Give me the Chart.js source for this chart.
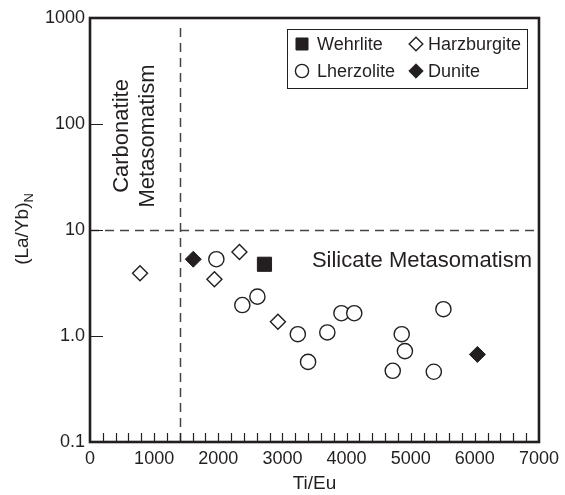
<!DOCTYPE html>
<html>
<head>
<meta charset="utf-8">
<script src="https://cdn.jsdelivr.net/npm/chart.js@4/dist/chart.umd.min.js"></script>
<style>
  html, body { margin: 0; padding: 0; background: #fff; }
  #wrap { width: 565px; height: 495px; }
</style>
</head>
<body>
<div id="wrap"><canvas id="c" width="565" height="495"></canvas></div>
<script>
// Ti/Eu versus chondrite-normalised (La/Yb) for peridotite xenoliths
const wehrliteX = [2720];
const wehrliteY = [4.75];
const harzburgiteX = [780, 1940, 2330, 2930];
const harzburgiteY = [3.9, 3.43, 6.2, 1.36];
const lherzoliteX = [1970, 2375, 2610, 3240, 3400, 3700, 3920, 4120, 4720, 4860, 4910, 5360, 5510];
const lherzoliteY = [5.3, 1.96, 2.35, 1.04, 0.57, 1.08, 1.64, 1.64, 0.47, 1.04, 0.72, 0.46, 1.79];
const duniteX = [1610, 6040];
const duniteY = [5.3, 0.67];

const xTickValues = [0, 1000, 2000, 3000, 4000, 5000, 6000, 7000];
const xTickLabels = ['0', '1000', '2000', '3000', '4000', '5000', '6000', '7000'];
const xMinorStep = 200;
const yTickValues = [0.1, 1, 10, 100, 1000];
const yTickLabels = ['0.1', '1.0', '10', '100', '1000'];

// field boundaries
const carbonatiteTiEu = 1400;
const silicateLaYb = 10;

const INK = '#231f20';
const FONT = '"Liberation Sans", Arial, Helvetica, sans-serif';

function pts(xs, ys) { return xs.map((x, i) => ({ x: x, y: ys[i] })); }

const datasets = [
  { label: 'Wehrlite', data: pts(wehrliteX, wehrliteY), pointStyle: 'rect', pointRadius: 10,
    backgroundColor: INK, borderColor: INK, borderWidth: 1 },
  { label: 'Harzburgite', data: pts(harzburgiteX, harzburgiteY), pointStyle: 'rectRot', pointRadius: 7.5,
    backgroundColor: '#fff', borderColor: INK, borderWidth: 1.4 },
  { label: 'Lherzolite', data: pts(lherzoliteX, lherzoliteY), pointStyle: 'circle', pointRadius: 7.6,
    backgroundColor: '#fff', borderColor: INK, borderWidth: 1.4 },
  { label: 'Dunite', data: pts(duniteX, duniteY), pointStyle: 'rectRot', pointRadius: 8,
    backgroundColor: INK, borderColor: INK, borderWidth: 1 }
];

const decorations = {
  id: 'decorations',
  beforeDatasetsDraw(chart) {
    const { ctx, chartArea: a, scales: { x, y } } = chart;
    ctx.save();
    ctx.strokeStyle = '#444';
    ctx.lineWidth = 1.5;
    ctx.setLineDash([9, 6]);
    const vx = Math.round(x.getPixelForValue(carbonatiteTiEu)) + 0.5;
    ctx.beginPath(); ctx.moveTo(vx, a.top + 10); ctx.lineTo(vx, a.bottom); ctx.stroke();
    const hy = Math.round(y.getPixelForValue(silicateLaYb)) + 0.5;
    ctx.beginPath(); ctx.moveTo(a.left, hy); ctx.lineTo(a.right, hy); ctx.stroke();
    ctx.setLineDash([]);

    // field labels
    ctx.fillStyle = INK;
    ctx.font = '22px ' + FONT;
    ctx.textAlign = 'right';
    ctx.textBaseline = 'alphabetic';
    ctx.fillText('Silicate Metasomatism', a.right - 7, hy + 36);

    ctx.save();
    ctx.translate(0, 136);
    ctx.rotate(-Math.PI / 2);
    ctx.textAlign = 'center';
    ctx.textBaseline = 'middle';
    ctx.fillText('Carbonatite', 0, 122);
    ctx.fillText('Metasomatism', 0, 148);
    ctx.restore();
    ctx.restore();
  },
  afterDraw(chart) {
    const { ctx, chartArea: a, scales: { x, y } } = chart;
    ctx.save();
    ctx.strokeStyle = INK;

    // inward ticks
    ctx.lineWidth = 1.2;
    ctx.beginPath();
    for (let v = xMinorStep; v < 7000; v += xMinorStep) {
      const px = Math.round(x.getPixelForValue(v)) + 0.5;
      ctx.moveTo(px, a.bottom); ctx.lineTo(px, a.bottom - 9);
    }
    yTickValues.slice(1, -1).forEach(v => {
      const py = Math.round(y.getPixelForValue(v)) + 0.5;
      ctx.moveTo(a.left, py); ctx.lineTo(a.left + 13, py);
    });
    ctx.stroke();

    // frame
    ctx.lineWidth = 2.6;
    ctx.strokeRect(a.left, a.top, a.right - a.left, a.bottom - a.top);

    // axis titles
    ctx.fillStyle = INK;
    ctx.font = '19px ' + FONT;
    ctx.textAlign = 'center';
    ctx.textBaseline = 'middle';
    ctx.fillText('Ti/Eu', (a.left + a.right) / 2, 484);

    ctx.save();
    ctx.translate(23, 229);
    ctx.rotate(-Math.PI / 2);
    ctx.font = '19px ' + FONT;
    const main = '(La/Yb)';
    const w1 = ctx.measureText(main).width;
    ctx.font = '13px ' + FONT;
    const w2 = ctx.measureText('N').width;
    const start = -(w1 + w2) / 2;
    ctx.textAlign = 'left';
    ctx.font = '19px ' + FONT;
    ctx.fillText(main, start, 0);
    ctx.font = '13px ' + FONT;
    ctx.fillText('N', start + w1, 6);
    ctx.restore();

    // legend
    const lx = 287.5, ly = 29.5, lw = 240, lh = 59;
    ctx.lineWidth = 1;
    ctx.fillStyle = '#fff';
    ctx.fillRect(lx, ly, lw, lh);
    ctx.strokeRect(lx, ly, lw, lh);
    const entries = [
      { ds: datasets[0], r: 8.5, mx: 302, tx: 317, y: 44 },
      { ds: datasets[1], r: 6.8, mx: 416, tx: 428, y: 44 },
      { ds: datasets[2], r: 6.6, mx: 302, tx: 317, y: 71 },
      { ds: datasets[3], r: 7.2, mx: 416, tx: 428, y: 71 }
    ];
    entries.forEach(e => {
      ctx.fillStyle = e.ds.backgroundColor;
      ctx.strokeStyle = e.ds.borderColor;
      ctx.lineWidth = e.ds.borderWidth;
      Chart.helpers.drawPoint(ctx, { pointStyle: e.ds.pointStyle, radius: e.r, borderWidth: e.ds.borderWidth }, e.mx, e.y);
      ctx.fillStyle = INK;
      ctx.font = '18px ' + FONT;
      ctx.textAlign = 'left';
      ctx.textBaseline = 'middle';
      ctx.fillText(e.ds.label, e.tx, e.y + 1);
    });
    ctx.restore();
  }
};

new Chart(document.getElementById('c'), {
  type: 'scatter',
  data: { datasets: datasets },
  options: {
    responsive: false,
    animation: false,
    devicePixelRatio: 1,
    layout: { padding: { left: 0, top: 18, right: 23, bottom: 0 } },
    plugins: { legend: { display: false }, tooltip: { enabled: false } },
    scales: {
      x: {
        type: 'linear', min: 0, max: 7000,
        afterBuildTicks(s) { s.ticks = xTickValues.map(v => ({ value: v })); },
        afterFit(s) { s.height = 53; },
        grid: { display: false, drawTicks: false },
        border: { display: false },
        ticks: {
          autoSkip: false, maxRotation: 0, padding: 6, color: INK,
          font: { family: FONT, size: 18 },
          callback: (v) => xTickLabels[xTickValues.indexOf(v)] ?? ''
        }
      },
      y: {
        type: 'logarithmic', min: 0.1, max: 1000,
        afterBuildTicks(s) { s.ticks = yTickValues.map(v => ({ value: v })); },
        afterFit(s) { s.width = 90; },
        grid: { display: false, drawTicks: false },
        border: { display: false },
        ticks: {
          autoSkip: false, padding: 5, color: INK,
          font: { family: FONT, size: 18 },
          callback: (v) => yTickLabels[yTickValues.indexOf(v)] ?? ''
        }
      }
    }
  },
  plugins: [decorations]
});
</script>
</body>
</html>
